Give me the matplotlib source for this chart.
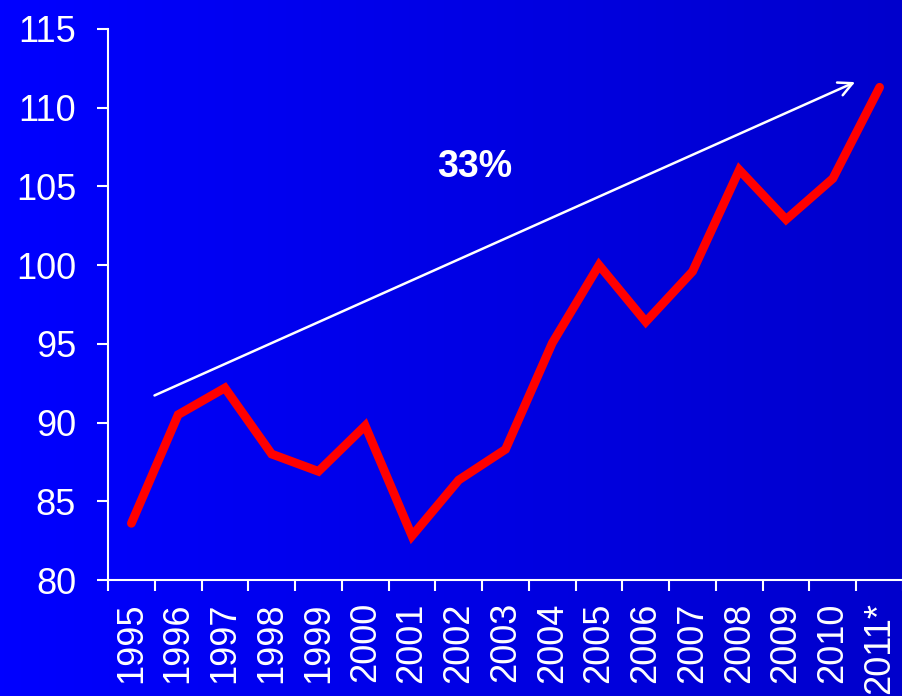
import matplotlib
matplotlib.use("Agg")
import matplotlib.pyplot as plt
import numpy as np
from matplotlib.colors import LinearSegmentedColormap

years = ["1995", "1996", "1997", "1998", "1999", "2000", "2001", "2002", "2003",
         "2004", "2005", "2006", "2007", "2008", "2009", "2010", "2011*"]
values = [83.6, 90.5, 92.2, 88.0, 86.9, 89.8, 82.8, 86.35, 88.3,
          95.05, 100.0, 96.4, 99.6, 106.05, 102.9, 105.5, 111.3]
yticks = [80, 85, 90, 95, 100, 105, 110, 115]
arrow_start = (0.44, 91.65)
arrow_end = (15.53, 111.7)
label_pos = (7.34, 106.25)
label_text = "33%"

plt.rcParams['font.family'] = ['Liberation Sans', 'DejaVu Sans']

fig = plt.figure(figsize=(9.03, 6.96), dpi=100)
bg = fig.add_axes([0, 0, 1, 1], zorder=-10)
cmap = LinearSegmentedColormap.from_list("bg", [(0, 0, 1.0), (0, 0, 0.80)])
grad = np.linspace(0, 1, 256).reshape(1, -1)
bg.imshow(grad, aspect="auto", cmap=cmap, extent=[0, 1, 0, 1])
bg.set_axis_off()

ax = fig.add_axes([108/903, 1-580/696, 1-108/903, (580-29)/696])
ax.patch.set_alpha(0)
x = np.arange(len(years))
ax.plot(x, values, color="#FF0000", lw=6.3, solid_joinstyle="miter", solid_capstyle="round", zorder=3)

ax.set_xlim(-0.5, len(years)-0.5)
ax.set_ylim(80, 115)
ax.set_yticks(yticks)
ax.set_yticklabels([str(v) for v in yticks])
ax.set_xticks(np.arange(-0.5, len(years)+0.5, 1))
ax.set_xticklabels([])
ax.set_xticks(x, minor=True)
ax.set_xticklabels(years, minor=True, rotation=90)

for s in ["top", "right"]:
    ax.spines[s].set_visible(False)
for s in ["left", "bottom"]:
    ax.spines[s].set_color("white")
    ax.spines[s].set_linewidth(1.5)

ax.tick_params(axis="y", which="major", direction="out", length=8, width=1.5, color="white",
               labelcolor="white", labelsize=26, pad=15)
ax.tick_params(axis="x", which="major", direction="out", length=8, width=1.5, color="white")
ax.tick_params(axis="x", which="minor", length=0, labelcolor="white", labelsize=26, pad=16)

ax.annotate("", xy=arrow_end, xytext=arrow_start,
            arrowprops=dict(arrowstyle="->,head_length=1.0,head_width=0.5", color="white", lw=1.8),
            zorder=4)
ax.text(label_pos[0], label_pos[1], label_text, color="white", fontsize=27, fontweight="bold",
        ha="center", va="center")

fig.savefig("out.png", dpi=100)
